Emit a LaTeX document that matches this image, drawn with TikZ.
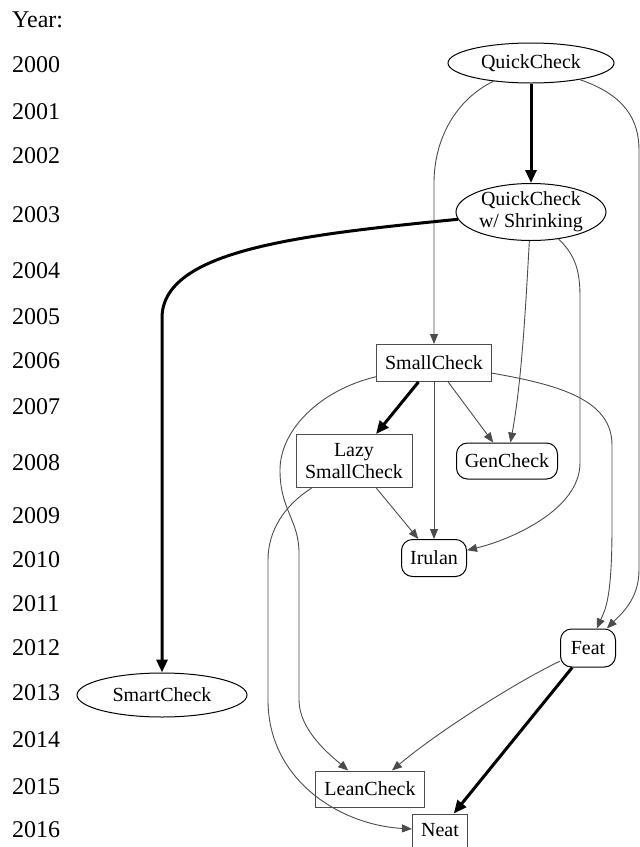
\documentclass[tikz,border=0pt]{standalone}
\usepackage{fontspec}
\setmainfont{Liberation Serif}
\usetikzlibrary{shapes.geometric,arrows.meta}
\tikzstyle{year}=[anchor=west, inner sep=0pt, font=\fontsize{24}{26}\selectfont]
\tikzstyle{tool}=[inner sep=0pt, align=center, line width=1pt, font=\fontsize{20}{22}\selectfont]
\tikzstyle{oval}=[tool, ellipse, draw=black]
\tikzstyle{box}=[tool, rectangle, draw=black!70]
\tikzstyle{rbox}=[tool, rectangle, rounded corners=11pt, draw=black]
\tikzstyle{link}=[draw=black!70, line width=0.9pt, -{Triangle[length=10pt,width=8pt]}]
\tikzstyle{main}=[draw=black, line width=3pt, -{Triangle[length=13pt,width=11pt]}]

\begin{document}
\begin{tikzpicture}[x=1pt, y=-1pt]
    \useasboundingbox (0,0) rectangle (640,847);
% Years
    \node[year] (yr) at (12,20) {Year:};
    \node[year] (y2000) at (12,65) {2000};
    \node[year] (y2001) at (12,112) {2001};
    \node[year] (y2002) at (12,156) {2002};
    \node[year] (y2003) at (12,215) {2003};
    \node[year] (y2004) at (12,271) {2004};
    \node[year] (y2005) at (12,317) {2005};
    \node[year] (y2006) at (12,361) {2006};
    \node[year] (y2007) at (12,407) {2007};
    \node[year] (y2008) at (12,463) {2008};
    \node[year] (y2009) at (12,516) {2009};
    \node[year] (y2010) at (12,560) {2010};
    \node[year] (y2011) at (12,604) {2011};
    \node[year] (y2012) at (12,648) {2012};
    \node[year] (y2013) at (12,693) {2013};
    \node[year] (y2014) at (12,740) {2014};
    \node[year] (y2015) at (12,787) {2015};
    \node[year] (y2016) at (12,830) {2016};
% Tools
    \node[oval, minimum width=166pt, minimum height=40pt] (qc) at (531,63) {QuickCheck};
    \node[oval, minimum width=150pt, minimum height=57pt] (qcs) at (531,212) {QuickCheck\\w/ Shrinking};
    \node[oval, minimum width=170pt, minimum height=44pt] (sm) at (162,695) {SmartCheck};
    \node[box, minimum width=115pt, minimum height=37pt] (sc) at (434,363) {SmallCheck};
    \node[box, minimum width=116pt, minimum height=53pt] (lazy) at (354,461) {Lazy\\SmallCheck};
    \node[rbox, minimum width=101pt, minimum height=36pt] (gen) at (507,461) {GenCheck};
    \node[rbox, minimum width=65pt, minimum height=37pt] (ir) at (434,558) {Irulan};
    \node[rbox, minimum width=55pt, minimum height=38pt] (feat) at (588,648) {Feat};
    \node[box, minimum width=109pt, minimum height=36pt] (lean) at (370,789) {LeanCheck};
    \node[box, minimum width=55pt, minimum height=33pt] (neat) at (440,830.5) {Neat};
% Links
    \draw[main] (qc) -- (qcs);
    \draw[link] (qc) .. controls (455,100) and (434,140) .. (434,183) -- (sc);
    \draw[link] (qc) .. controls (625,95) and (639,120) .. (639,150) -- (639,570) .. controls (639,600) and (620,615) .. (feat);
    \draw[main] (qcs) .. controls (300,235) and (162,250) .. (162,318) -- (sm);
    \draw[link] (qcs) .. controls (526,300) and (522,380) .. (gen);
    \draw[link] (qcs) .. controls (575,255) and (580,270) .. (580,297) -- (580,463) .. controls (580,510) and (510,540) .. (ir);
    \draw[main] (sc) -- (lazy);
    \draw[link] (sc) -- (gen);
    \draw[link] (sc) -- (ir);
    \draw[link] (sc) .. controls (320,390) and (280,430) .. (280,470) .. controls (280,510) and (299,520) .. (299,553) -- (299,700) .. controls (299,730) and (330,755) .. (lean);
    \draw[link] (sc) .. controls (560,385) and (612,400) .. (612,445) -- (612,527) .. controls (612,600) and (605,610) .. (feat);
    \draw[link] (lazy) -- (ir);
    \draw[link] (lazy) .. controls (285,505) and (268,530) .. (268,560) -- (268,700) .. controls (268,780) and (340,825) .. (neat);
    \draw[link] (feat) .. controls (520,680) and (440,730) .. (lean);
    \draw[main] (feat) -- (neat);
\end{tikzpicture}
\end{document}
